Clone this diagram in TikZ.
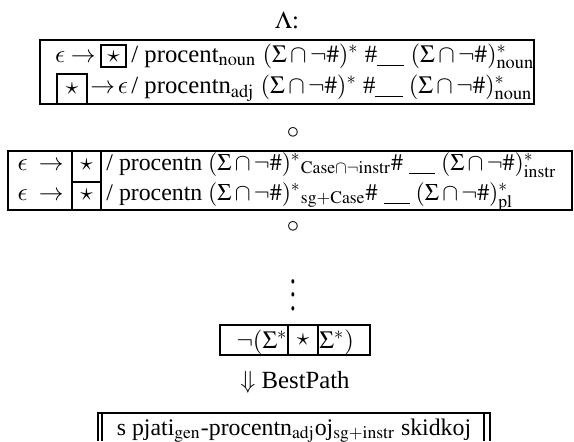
\documentclass[tikz,border=0pt]{standalone}
\usepackage{mathptmx}
\usepackage[no-math]{fontspec}
\setmainfont{Liberation Serif}
\usetikzlibrary{positioning}
\DeclareSymbolFont{cmletters}{OML}{cmm}{m}{it}
\DeclareMathSymbol{\lunate}{\mathord}{cmletters}{"0F}
\newcommand{\gapline}{\underline{\hspace{1.1em}}}
\newcommand{\sgn}{(\Sigma\cap\neg\#)}

\begin{document}
\begin{tikzpicture}[x=0.437pt,y=-0.437pt,
  every node/.style={font=\fontsize{10.8}{13}\selectfont,inner sep=0pt},
  rowtext/.style={font=\fontsize{10.4}{13}\selectfont},
  frame/.style={draw=black,line width=0.9pt},
  thinframe/.style={draw=black,line width=0.7pt}]
\useasboundingbox (0,0) rectangle (574,441);
\node[anchor=base](lam) at (287,28){$\Lambda$:};
% first block
\draw[frame] (40,40) rectangle (534,104);
\draw[frame] (101,45) rectangle (126,67);
\draw[frame] (57,74) rectangle (87,104);
\node[anchor=base east](epsA) at (96,62){$\lunate\rightarrow$};
\node(starA) at (113.5,56.5){$\star$};
\node[anchor=base west](ruleA) at (131,62){/ procent$_{\mathrm{noun}}$ $\sgn^*$ \#\gapline\ $\sgn^*_{\mathrm{noun}}$};
\node(starB) at (72,89){$\star$};
\node[anchor=base west](epsB) at (90,93){$\rightarrow\!\lunate$};
\node[anchor=base west](ruleB) at (131,93){/ procentn$_{\mathrm{adj}}$ $\sgn^*$ \#\gapline\ $\sgn^*_{\mathrm{noun}}$};
\node(compA) at (293,133){$\circ$};
% second block
\draw[frame] (8,151) rectangle (572,210);
\draw[frame] (72,151) rectangle (101,210);
\draw[frame] (72,182) -- (101,182);
\node[anchor=base east](epsC) at (64,170){$\lunate\;\rightarrow$};
\node(starC) at (86.5,165){$\star$};
\node[anchor=base west,rowtext](ruleC) at (106,170){/ procentn $\sgn^{*}{}_{\mathrm{Case}\cap\neg\mathrm{instr}}\#$ \gapline\ $\sgn^*_{\mathrm{instr}}$};
\node[anchor=base east](epsD) at (64,200){$\lunate\;\rightarrow$};
\node(starD) at (86.5,195){$\star$};
\node[anchor=base west,rowtext](ruleD) at (106,200){/ procentn $\sgn^{*}{}_{\mathrm{sg}+\mathrm{Case}}\#$ \gapline\ $\sgn^*_{\mathrm{pl}}$};
\node(compB) at (293,227){$\circ$};
\node[yscale=1.5,transform shape](dots) at (293,285){$\vdots$};
% filter
\draw[frame] (220,325) rectangle (370,355);
\draw[frame] (288,325) -- (288,355);
\draw[frame] (318,325) -- (318,355);
\node[anchor=base](filtA) at (262,348){$\neg(\Sigma^*$};
\node(filtB) at (303,340){$\star$};
\node[anchor=base west](filtC) at (319,348){$\Sigma^*)$};
\node[anchor=base](best) at (295,388){$\Downarrow$ BestPath};
% output
\draw[thinframe] (98,441) -- (98,413) -- (490,413) -- (490,441);
\draw[thinframe] (102,441) -- (102,413);
\draw[thinframe] (484,441) -- (484,413);
\node[anchor=base,rowtext](out) at (294,435){s pjati$_{\mathrm{gen}}$-procentn$_{\mathrm{adj}}$oj$_{\mathrm{sg}+\mathrm{instr}}$ skidkoj};
\end{tikzpicture}
\end{document}
